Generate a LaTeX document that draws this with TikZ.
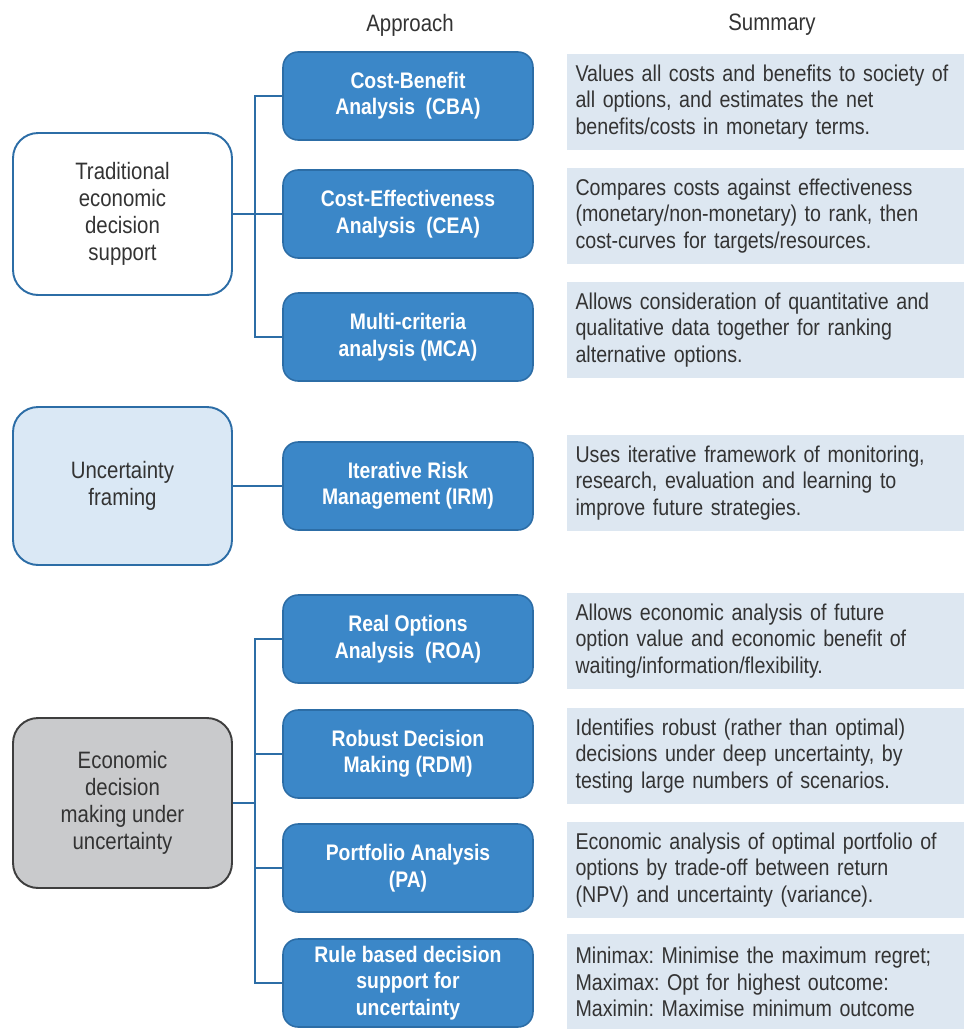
\documentclass[tikz,border=0pt]{standalone}
\usepackage{fontspec}
\setmainfont[FakeStretch=0.86]{Liberation Sans}
\usepackage{xcolor}
\usepackage{tikz}
\definecolor{apblue}{HTML}{3B87C8}
\definecolor{apedge}{HTML}{2C6DA6}
\definecolor{sumfill}{HTML}{DDE7F1}
\definecolor{uncfill}{HTML}{DAE8F5}
\definecolor{econfill}{HTML}{C9CACC}
\definecolor{econedge}{HTML}{3E3E3E}
\definecolor{txt}{HTML}{333333}

\begin{document}
\frenchspacing
\begin{tikzpicture}[x=0.02cm,y=-0.02cm]
			\tikzstyle{approach}=[draw=apedge, line width=0.9pt, fill=apblue, rounded corners=0.3cm, minimum width=5cm, minimum height=1.76cm, align=center, text=white, font=\fontsize{12.8}{15}\selectfont\bfseries]
			\tikzstyle{summary}=[fill=sumfill, minimum width=7.94cm, minimum height=1.92cm, text width=7.6cm, inner xsep=0.17cm, align=left, text=txt, font=\fontsize{13}{15}\selectfont]
			\tikzstyle{group}=[draw=apedge, line width=1.1pt, rounded corners=0.5cm, minimum width=4.38cm, align=center, text=txt, font=\fontsize{13.5}{15.5}\selectfont]
			\tikzstyle{head}=[text=txt, font=\fontsize{13.5}{15}\selectfont]
			\tikzstyle{link}=[draw=apedge, line width=1.1pt]
			
			\useasboundingbox (0,0) rectangle (966,1029);
			
			\node[head] (hap) at (410,25) {Approach};
			\node[head] (hsum) at (772,25) {Summary};
			
			\node[group, fill=white, minimum height=3.24cm] (trad) at (122.5,214) {Traditional\\economic\\decision\\support};
			\node[group, fill=uncfill, minimum height=3.16cm] (unc) at (122.5,486) {Uncertainty\\framing};
			\node[group, draw=econedge, fill=econfill, minimum height=3.4cm] (econ) at (122.5,803) {Economic\\decision\\making under\\uncertainty};
			
			\node[approach] (cba) at (408,96) {Cost-Benefit\\Analysis~~(CBA)};
			\node[approach] (cea) at (408,214) {Cost-Effectiveness\\Analysis~~(CEA)};
			\node[approach] (mca) at (408,337) {Multi-criteria\\analysis (MCA)};
			\node[approach] (irm) at (408,486) {Iterative Risk\\Management (IRM)};
			\node[approach] (roa) at (408,639) {Real Options\\Analysis~~(ROA)};
			\node[approach] (rdm) at (408,754) {Robust Decision\\Making (RDM)};
			\node[approach] (pa) at (408,868) {Portfolio Analysis\\(PA)};
			\node[approach] (rule) at (408,983) {Rule based decision\\support for\\uncertainty};
			
			\node[summary] (scba) at (765.5,102) {Values all costs and benefits to society of\\all options, and estimates the net\\benefits/costs in monetary terms.};
			\node[summary] (scea) at (765.5,216) {Compares costs against effectiveness\\(monetary/non-monetary) to rank, then\\cost-curves for targets/resources.};
			\node[summary] (smca) at (765.5,330) {Allows consideration of quantitative and\\qualitative data together for ranking\\alternative options.};
			\node[summary] (sirm) at (765.5,483) {Uses iterative framework of monitoring,\\research, evaluation and learning to\\improve future strategies.};
			\node[summary] (sroa) at (765.5,641) {Allows economic analysis of future\\option value and economic benefit of\\waiting/information/flexibility.};
			\node[summary] (srdm) at (765.5,756) {Identifies robust (rather than optimal)\\decisions under deep uncertainty, by\\testing large numbers of scenarios.};
			\node[summary] (spa) at (765.5,870) {Economic analysis of optimal portfolio of\\options by trade-off between return\\(NPV) and uncertainty (variance).};
			\node[summary] (srule) at (765.5,982) {Minimax: Minimise the maximum regret;\\Maximax: Opt for highest outcome:\\Maximin: Maximise minimum outcome};
			
			\coordinate (tbus) at (255,214);
			\coordinate (ebus) at (255,803);
			\draw[link] (cba.west) -| (tbus) |- (mca.west);
			\draw[link] (trad.east) -- (cea.west);
			\draw[link] (unc.east) -- (irm.west);
			\draw[link] (roa.west) -| (ebus) |- (rule.west);
			\draw[link] (econ.east) -- (ebus);
			\draw[link] (ebus |- rdm.west) -- (rdm.west);
			\draw[link] (ebus |- pa.west) -- (pa.west);
\end{tikzpicture}
\end{document}
